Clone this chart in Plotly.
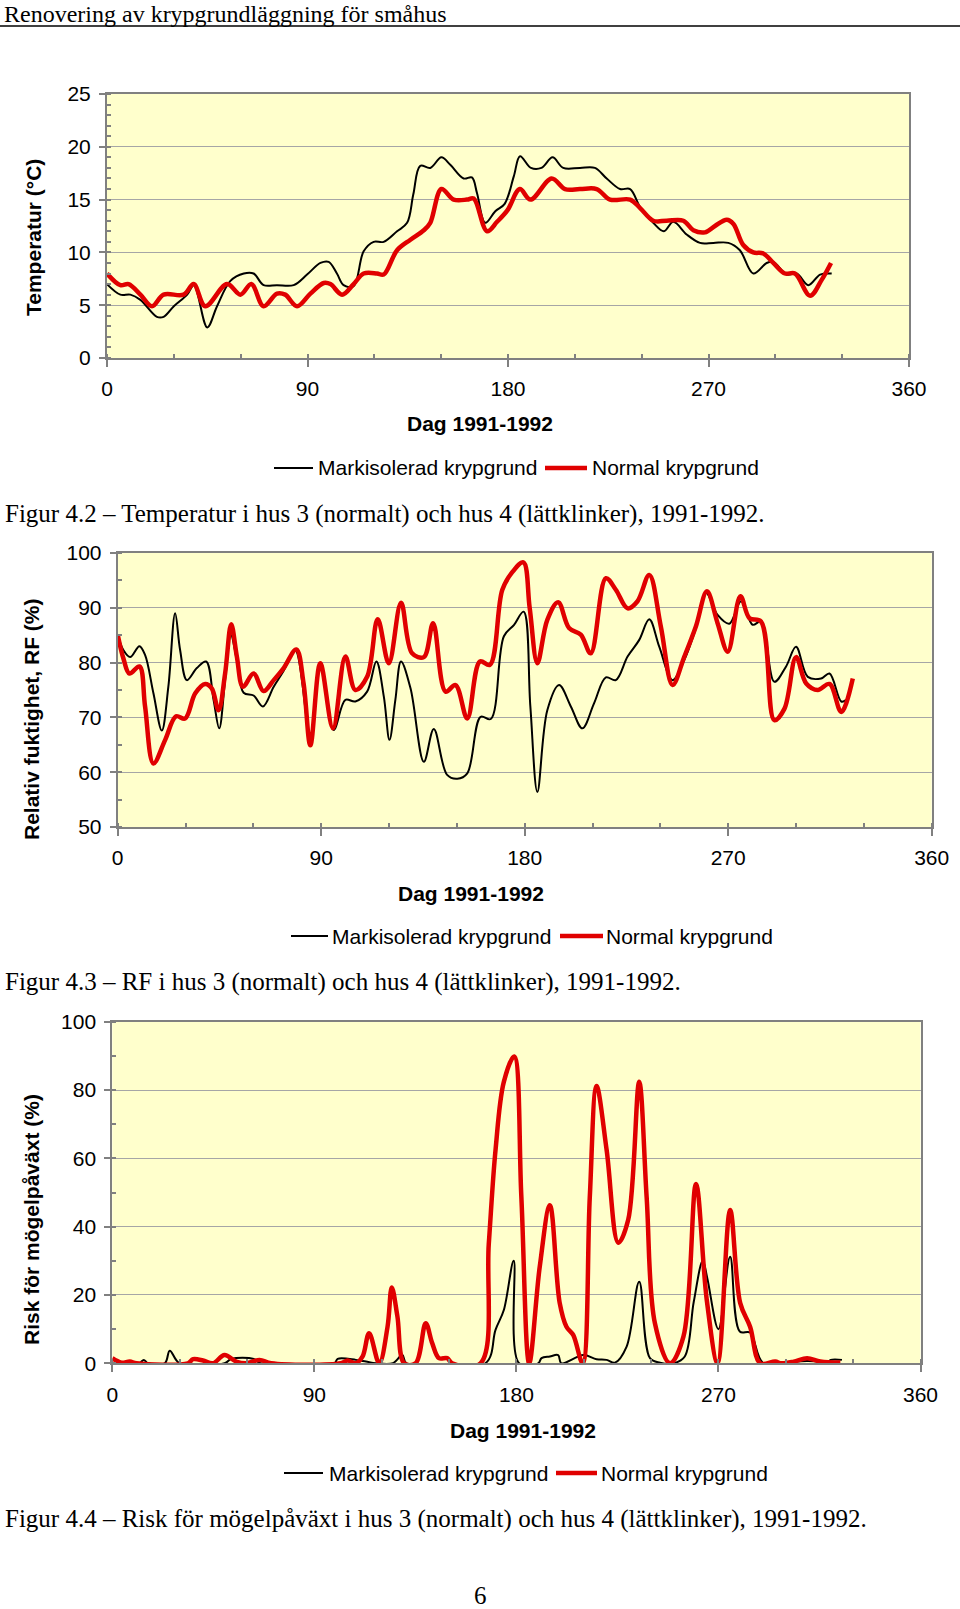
import plotly.graph_objects as go

W, H = 960, 1609

# ---------------- data ----------------
# Figure 4.2 temperature (deg C)
temp_mark_day = [0, 6, 10.5, 15, 22.4, 25.4, 30, 36, 39, 45, 49.4, 55.4, 61.4, 65.8, 70.3, 76.3, 83.8,
                 89.8, 95.8, 99.5, 103.2, 106.2, 110.7, 115.2, 119.7, 124.2, 130.2, 134.7, 137.5, 140.6,
                 145.1, 150.1, 154.1, 160.1, 163.8, 166.1, 169.8, 174.3, 178.5, 182.6, 185.4, 190.3,
                 195, 200, 204.8, 212.3, 219, 224.3, 230.3, 234.8, 239.3, 245.2, 250, 254.2, 260.2,
                 266.2, 272.2, 278.9, 284.1, 290.1, 296.1, 299.1, 305.1, 309.6, 314.8, 320.1, 325.3]
temp_mark = [7.0, 6.0, 6.0, 5.5, 3.9, 3.9, 4.9, 6.0, 6.9, 2.9, 4.9, 7.3, 8.0, 8.0, 6.9, 6.9, 6.9,
             7.9, 9.0, 9.1, 8.0, 6.9, 6.8, 10.1, 11.0, 11.0, 12.0, 12.8, 15.5, 18.2,
             18.0, 19.0, 18.3, 17.0, 17.1, 15.6, 12.8, 13.9, 14.6, 17.2, 19.1, 18.0,
             18.0, 19.0, 18.0, 18.0, 18.0, 17.0, 16.0, 16.0, 14.3, 12.8, 12.0, 12.9, 11.7,
             10.9, 10.9, 10.9, 10.2, 8.0, 9.0, 9.1, 7.9, 8.0, 6.9, 7.9, 8.0]

temp_norm_day = [0, 6, 9.7, 15, 20.2, 25.4, 34.4, 38.9, 44.1, 53.9, 59.9, 64.8, 70.3, 76.3, 80, 85.3,
                 91.3, 97.3, 100.3, 105.5, 110.7, 115.2, 121.2, 124.2, 130.2, 136.2, 142.2, 145.1,
                 150.1, 155.6, 161.6, 164.6, 170.6, 175.1, 179.8, 185.3, 190.1, 199.6, 205.6, 212.3,
                 219.8, 225.8, 234.8, 239.3, 245.2, 251.2, 258.7, 263.2, 268.4, 272.9, 278.2, 281.2,
                 285.6, 290.1, 294.6, 299.1, 304.3, 308.8, 315.6, 320.8, 325]
temp_norm = [8.0, 6.9, 7.0, 6.0, 4.9, 6.0, 6.0, 7.0, 4.9, 7.0, 6.0, 7.0, 4.9, 6.1, 6.0, 4.9,
             6.1, 7.1, 7.0, 6.0, 7.0, 8.0, 8.0, 7.9, 10.2, 11.2, 12.1, 12.8,
             16.0, 15.0, 15.0, 15.1, 12.0, 12.9, 14.0, 16.0, 15.0, 17.0, 16.0, 16.0,
             16.0, 15.0, 15.0, 14.2, 13.0, 13.0, 13.0, 12.1, 11.9, 12.5, 13.1, 12.7,
             10.7, 10.0, 9.9, 9.0, 8.0, 8.0, 5.9, 7.4, 9.0]

# Figure 4.3 relative humidity (%)
rf_mark_day = [0, 2.5, 5.5, 9.6, 12.1, 15.8, 19.5, 22.4, 25.4, 27.6, 30.6, 35, 39.1, 42.4, 44.9, 47.5,
               50, 52.7, 55.7, 60.1, 64.2, 69, 73.4, 78.5, 85.2, 89.6, 95.5, 100.7, 105.1, 110.3,
               114.4, 117.7, 120.2, 122.8, 125.3, 129.5, 135.4, 139.8, 145.7, 150.2, 154.6, 160.5,
               165, 170.8, 175.3, 179.5, 182.5, 185.6, 190, 195.2, 200.4, 205.5, 210.7, 215.9,
               220.3, 225.5, 230.6, 235.1, 239.5, 245.4, 250.6, 255.7, 260.2, 265.3, 270.5,
               275.7, 280.8, 284.5, 290.4, 295.6, 300, 305.2, 311.1, 314.8, 320, 322.2]
rf_mark = [85.1, 82.3, 81.0, 83.0, 81.4, 74.4, 67.6, 75.6, 89.0, 82.3, 76.8, 79.0, 80.2, 73.2, 68.0, 76.8,
           85.1, 80.5, 74.5, 74.0, 72.0, 75.6, 78.5, 82.3, 66.5, 79.9, 67.7, 73.2, 72.9, 74.7,
           80.2, 73.8, 65.9, 73.2, 80.2, 75.3, 61.9, 67.9, 59.5, 58.8, 59.8, 70.1,
           69.7, 84.8, 86.9, 89.3, 72.0, 56.4, 71.3, 75.9, 72.0, 68.0, 72.6, 77.3,
           76.8, 81.1, 84.1, 87.9, 82.9, 76.8, 80.5, 86.3, 92.7, 88.7, 87.1,
           91.2, 86.9, 87.5, 76.5, 79.3, 82.9, 77.4, 77.1, 78.0, 72.9, 73.2]

rf_norm_day = [0, 2.5, 5.2, 9.6, 12.1, 15.8, 21, 25.8, 29.8, 34.3, 38.7, 41.6, 44.6, 47.5, 50.2, 52.7,
               55.4, 60.1, 64.5, 69, 73.4, 79, 82.2, 85.2, 89.6, 95.2, 100.7, 105.1, 110.3, 115,
               119.9, 125.3, 130.2, 135.4, 139.5, 145, 149.4, 154.6, 160.2, 164.6, 170.1, 174.5,
               179.4, 182.2, 185.6, 190, 194.8, 199.6, 204.8, 209.2, 215.9, 220.3, 225.5, 229.9,
               235.1, 240.2, 245.4, 250.6, 255.7, 260.6, 265.3, 269.8, 275.4, 279.4, 284.5, 290.4,
               294.9, 300, 304.5, 309.6, 314.8, 320, 325.1]
rf_norm = [85.1, 80.8, 78.0, 79.3, 72.0, 61.6, 65.9, 70.2, 69.8, 74.4, 76.1, 75.3, 71.3, 78.0, 87.0, 81.1,
           75.6, 78.0, 74.8, 76.8, 79.0, 82.4, 76.2, 64.9, 79.9, 68.0, 81.1, 75.0, 77.4, 87.9,
           79.9, 90.9, 81.7, 81.0, 87.2, 74.7, 75.9, 69.8, 80.2, 79.6, 93.3, 96.5,
           98.3, 90.0, 79.9, 87.8, 91.0, 86.3, 85.1, 81.7, 95.4, 93.3, 89.9, 91.2,
           96.0, 86.6, 75.9, 81.1, 86.6, 93.0, 87.2, 82.0, 92.1, 88.1, 87.5, 69.5,
           71.6, 81.0, 76.2, 75.0, 76.1, 71.0, 77.1]

# Figure 4.4 mould risk (%)
risk_mark_day = [0, 12, 14, 16, 23.4, 25.6, 30, 50, 53, 63, 66, 98.9, 100.4, 108.5, 113, 117.4, 125,
                 129.2, 131, 166.2, 170.7, 174.4, 178.8, 181.2, 189.7, 191.2, 194.9, 198.6, 200,
                 209.8, 215.7, 220.2, 223.9, 229.1, 234.7, 239.5, 244, 250, 255, 259, 263, 265,
                 270, 275.2, 279.5, 284.1, 290, 303, 305, 315, 318, 320, 325]
risk_mark = [0, 0, 1, 0, 0, 3.7, 0, 0, 1.3, 1.3, 0, 0, 1.3, 1.0, 0.5, 0, 0,
             2.4, 0, 0, 9.8, 15.6, 30, 0, 0, 1.5, 2.0, 2.4, 0,
             2.4, 1.2, 1.0, 0.2, 4.9, 23.9, 1.5, 0.2, 0, 2, 18, 30, 25,
             10, 31.2, 9.3, 9.0, 0, 0, 0.5, 0.5, 0, 1, 1]

risk_norm_day = [0, 4.1, 7.8, 10.8, 33.7, 36, 40.4, 44.8, 50, 55.2, 59.7, 65.6, 70.8, 101.8, 104.8,
                 108.5, 111.5, 114.4, 118.9, 122.6, 124.5, 127, 130, 135.1, 139.6, 142.5, 145.5,
                 149.2, 151.4, 164, 167.7, 170.7, 174.4, 179, 182.2, 185.7, 190.4, 194.9, 199.3,
                 202.3, 205.3, 209.5, 212.7, 215.7, 220.2, 225.4, 229.8, 234.7, 238, 241.7, 248.4,
                 254.4, 260, 264.8, 269.6, 275.2, 279.7, 284.1, 288.6, 295.3, 298, 303.5, 309.5,
                 315.4, 324.3]
risk_norm = [1.5, 0.2, 0.5, 0, 0, 1.2, 0.8, 0, 2.4, 0.5, 0, 1.0, 0, 0, 0.8,
             0, 2.0, 8.8, 0, 10.7, 22.2, 13.7, 0, 0, 11.7, 5.9, 1.5,
             1.5, 0, 0, 35, 62.4, 82.4, 89.8, 48.8, 0, 28.3, 46.3, 17.6,
             10.7, 8.3, 0, 48.8, 81.2, 62.4, 35.3, 42, 82.4, 48.8, 11.7, 0,
             7.8, 52.5, 18.5, 0, 44.9, 17.6, 10.7, 0, 0.5, 0, 0.5, 1.5,
             0.5, 0.2]

x_ticks = [0, 90, 180, 270, 360]
series_names = ["Markisolerad krypgrund", "Normal krypgrund"]
y_titles = ["Temperatur (°C)", "Relativ fuktighet, RF (%)", "Risk för mögelpåväxt (%)"]
x_title = "Dag 1991-1992"
captions = ["Figur 4.2 – Temperatur i hus 3 (normalt) och hus 4 (lättklinker), 1991-1992.",
            "Figur 4.3 – RF i hus 3 (normalt) och hus 4 (lättklinker), 1991-1992.",
            "Figur 4.4 – Risk för mögelpåväxt i hus 3 (normalt) och hus 4 (lättklinker), 1991-1992."]
header = "Renovering av krypgrundläggning för småhus"
page_no = "6"

# ---------------- layout helpers (page pixel -> paper fraction) ----------------
def fx(x):
    return x / W

def fy(y):
    return 1 - y / H

SANS = "Liberation Sans, Arial, sans-serif"
SERIF = "Liberation Serif, Times New Roman, serif"
GREY = "#808080"
BLACK_LINE = "#000000"
RED_LINE = "#E00000"
FS = 21
FSERIF = 25

panels = [
    dict(x0=107, x1=909, y0=94, y1=358, yr=[0, 25], dt=5, mdt=1,
         data=[(temp_mark_day, temp_mark), (temp_norm_day, temp_norm)],
         ytitle_xy=(34, 238), xtitle_xy=(480, 424), cap_y=514,
         leg=dict(y=468, b0=274, b1=313, bt=316, r0=545, r1=587, rt=590)),
    dict(x0=117.7, x1=931.7, y0=553, y1=827, yr=[50, 100], dt=10, mdt=5,
         data=[(rf_mark_day, rf_mark), (rf_norm_day, rf_norm)],
         ytitle_xy=(31, 719), xtitle_xy=(471, 893), cap_y=982,
         leg=dict(y=936, b0=291, b1=328, bt=330, r0=560, r1=603, rt=604)),
    dict(x0=112.3, x1=920.5, y0=1021.7, y1=1363.3, yr=[0, 100], dt=20, mdt=10,
         data=[(risk_mark_day, risk_mark), (risk_norm_day, risk_norm)],
         ytitle_xy=(31, 1220), xtitle_xy=(523, 1430), cap_y=1519,
         leg=dict(y=1473, b0=284, b1=323, bt=327, r0=556, r1=597, rt=599)),
]

fig = go.Figure()
annotations = []
shapes = []
layout_axes = {}

for i, p in enumerate(panels, start=1):
    xa = "x" if i == 1 else f"x{i}"
    ya = "y" if i == 1 else f"y{i}"
    xkey = "xaxis" if i == 1 else f"xaxis{i}"
    ykey = "yaxis" if i == 1 else f"yaxis{i}"
    (bx, by), (rx, ry) = p["data"]
    fig.add_trace(go.Scatter(x=bx, y=by, mode="lines", name=series_names[0],
                             line=dict(color=BLACK_LINE, width=2, shape="spline", smoothing=1.0),
                             xaxis=xa, yaxis=ya, showlegend=False, hoverinfo="skip"))
    fig.add_trace(go.Scatter(x=rx, y=ry, mode="lines", name=series_names[1],
                             line=dict(color=RED_LINE, width=4.5, shape="spline", smoothing=1.0),
                             xaxis=xa, yaxis=ya, showlegend=False, hoverinfo="skip"))

    layout_axes[xkey] = dict(
        domain=[fx(p["x0"]), fx(p["x1"])], anchor=ya, range=[0, 360], automargin=False,
        tickmode="array", tickvals=x_ticks, ticks="outside", ticklen=7, tickwidth=1.5,
        tickcolor=GREY, showline=True, linecolor=GREY, linewidth=2, mirror=True,
        showgrid=False, zeroline=False, ticklabelstandoff=4,
        tickfont=dict(family=SANS, size=FS, color="black"),
        minor=dict(dtick=30, tick0=0, ticks="inside", ticklen=4, tickwidth=1.5,
                   tickcolor=GREY, showgrid=False),
        fixedrange=True,
    )
    layout_axes[ykey] = dict(
        domain=[fy(p["y1"]), fy(p["y0"])], anchor=xa, range=p["yr"], automargin=False,
        tick0=p["yr"][0], dtick=p["dt"], ticks="outside", ticklen=6, tickwidth=1.5,
        tickcolor=GREY, showline=True, linecolor=GREY, linewidth=2, mirror=True,
        showgrid=True, gridcolor="#A6A6A6", gridwidth=1, zeroline=False,
        ticklabelstandoff=4,
        tickfont=dict(family=SANS, size=FS, color="black"),
        minor=dict(dtick=p["mdt"], tick0=p["yr"][0], ticks="inside", ticklen=4,
                   tickwidth=1.5, tickcolor=GREY, showgrid=False),
        fixedrange=True,
    )

    tx, ty = p["ytitle_xy"]
    annotations.append(dict(text=f"<b>{y_titles[i-1]}</b>", x=fx(tx), y=fy(ty),
                            xref="paper", yref="paper", textangle=-90, showarrow=False,
                            xanchor="center", yanchor="middle",
                            font=dict(family=SANS, size=FS, color="black")))
    tx, ty = p["xtitle_xy"]
    annotations.append(dict(text=f"<b>{x_title}</b>", x=fx(tx), y=fy(ty),
                            xref="paper", yref="paper", showarrow=False,
                            xanchor="center", yanchor="middle",
                            font=dict(family=SANS, size=FS, color="black")))
    annotations.append(dict(text=captions[i-1], x=fx(3), y=fy(p["cap_y"]),
                            xref="paper", yref="paper", showarrow=False,
                            xanchor="left", yanchor="middle",
                            font=dict(family=SERIF, size=FSERIF, color="black")))
    lg = p["leg"]
    shapes.append(dict(type="line", xref="paper", yref="paper",
                       x0=fx(lg["b0"]), x1=fx(lg["b1"]), y0=fy(lg["y"]), y1=fy(lg["y"]),
                       line=dict(color=BLACK_LINE, width=2)))
    shapes.append(dict(type="line", xref="paper", yref="paper",
                       x0=fx(lg["r0"]), x1=fx(lg["r1"]), y0=fy(lg["y"]), y1=fy(lg["y"]),
                       line=dict(color=RED_LINE, width=4.5)))
    annotations.append(dict(text=series_names[0], x=fx(lg["bt"]), y=fy(lg["y"]),
                            xref="paper", yref="paper", showarrow=False,
                            xanchor="left", yanchor="middle",
                            font=dict(family=SANS, size=FS, color="black")))
    annotations.append(dict(text=series_names[1], x=fx(lg["rt"]), y=fy(lg["y"]),
                            xref="paper", yref="paper", showarrow=False,
                            xanchor="left", yanchor="middle",
                            font=dict(family=SANS, size=FS, color="black")))

# page header and number
annotations.append(dict(text=header, x=fx(3), y=fy(0), xref="paper", yref="paper",
                        showarrow=False, xanchor="left", yanchor="top", borderpad=0,
                        font=dict(family=SERIF, size=24, color="black")))
annotations.append(dict(text=page_no, x=fx(480), y=fy(1595), xref="paper", yref="paper",
                        showarrow=False, xanchor="center", yanchor="middle",
                        font=dict(family=SERIF, size=FSERIF, color="black")))
shapes.append(dict(type="line", xref="paper", yref="paper", x0=0, x1=1,
                   y0=fy(26), y1=fy(26), line=dict(color="black", width=1.5)))

fig.update_layout(
    width=W, height=H, autosize=False,
    margin=dict(l=0, r=0, t=0, b=0, pad=0, autoexpand=False),
    paper_bgcolor="white", plot_bgcolor="#FFFFCC",
    showlegend=False, annotations=annotations, shapes=shapes,
    **layout_axes,
)

fig.write_html(
    "out.html",
    post_script=("document.documentElement.style.overflow='hidden';"
                 "document.body.style.margin='0';document.body.style.overflow='hidden';"),
    config={"displayModeBar": False, "responsive": False},
)
